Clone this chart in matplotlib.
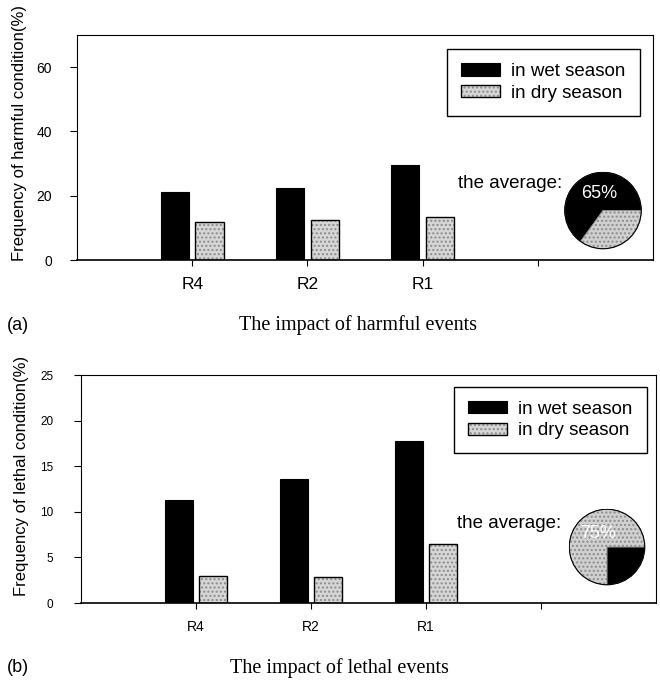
import numpy as np
import matplotlib
matplotlib.use("Agg")
import matplotlib.pyplot as plt

# ── data ─────────────────────────────────────────────────────────────
regions = ["R4", "R2", "R1"]
harm_wet = [21.3, 22.5, 29.6]
harm_dry = [11.9, 12.4, 13.4]
lethal_wet = [11.3, 13.6, 17.8]
lethal_dry = [3.0, 2.9, 6.5]

harm_pie = [65, 35]      # wet, dry
lethal_pie = [25, 75]    # wet, dry
pie_labels = ["65%", "75%"]
pie_label_idx = [0, 1]   # which wedge carries the text

series_names = ["in wet season", "in dry season"]

W, H = 660, 687
plt.rcParams["font.family"] = ["Liberation Sans", "DejaVu Sans"]

fig = plt.figure(figsize=(W / 100, H / 100), dpi=100)


def px(x0, y0, x1, y1):
    """pixel box (left, top, right, bottom) -> figure fraction rect"""
    return [x0 / W, 1 - y1 / H, (x1 - x0) / W, (y1 - y0) / H]


def bar_panel(rect, wet, dry, ymax, yticks, ytick_fs, xtick_fs, xpad, ypad,
              leg_anchor):
    ax = fig.add_axes(rect)
    x = np.arange(1, len(wet) + 1)
    bw = 0.245
    wet_b = ax.bar(x - 0.15, wet, bw, color="black", edgecolor="black", lw=0.8)
    dry_f = ax.bar(x + 0.15, dry, bw, color="#d6d6d6", edgecolor="#8c8c8c",
                   hatch="....", lw=0)
    dry_e = ax.bar(x + 0.15, dry, bw, fill=False, edgecolor="black", lw=1.0)
    ax.set_xlim(0, 5)
    ax.set_ylim(0, ymax)
    ax.set_xticks([1, 2, 3, 4])
    ax.set_xticklabels(regions + [""], fontsize=xtick_fs)
    ax.set_yticks(yticks)
    ax.tick_params(axis="x", direction="out", length=4, width=0.8, pad=xpad)
    ax.tick_params(axis="y", direction="out", length=5, width=0.8, pad=ypad,
                   labelsize=ytick_fs)
    for s in ax.spines.values():
        s.set_linewidth(0.8)
    ax.spines["bottom"].set_linewidth(1.2)
    leg = ax.legend([wet_b, (dry_f, dry_e)], series_names, loc="upper right",
                    bbox_to_anchor=leg_anchor, borderaxespad=0, fontsize=13.5,
                    fancybox=False, edgecolor="black", framealpha=1,
                    handlelength=2.1, handleheight=0.65, handletextpad=0.6,
                    borderpad=0.75, labelspacing=0.25)
    leg.get_frame().set_linewidth(1.0)
    return ax


def pie_inset(cx, cy, r, vals, start, label, idx):
    pa = fig.add_axes(px(cx - r, cy - r, cx + r, cy + r))
    wedges, _ = pa.pie(vals, colors=["black", "#d0d0d0"], startangle=start,
                       counterclock=True,
                       wedgeprops=dict(edgecolor="#555555", linewidth=0.6))
    wedges[1].set_hatch("....")
    wedges[1].set_edgecolor("#8c8c8c")
    pa.add_patch(plt.Circle((0, 0), 1, fill=False, edgecolor="black", lw=0.8))
    w = wedges[idx]
    mid = np.deg2rad((w.theta1 + w.theta2) / 2)
    pa.text(0.55 * np.cos(mid) + 0.15, 0.5 * np.sin(mid), label, color="white",
            fontsize=13, ha="center", va="center")
    pa.set_xlim(-1.02, 1.02)
    pa.set_ylim(-1.02, 1.02)
    pa.set_aspect("equal")
    pa.axis("off")


# ── (a) harmful ──────────────────────────────────────────────────────
bar_panel(px(77, 35, 653, 260), harm_wet, harm_dry, 70, [0, 20, 40, 60],
          10, 12.5, 8, 13, (0.977, 0.938))
fig.text(20 / W, 1 - 133 / H, "Frequency of harmful condition(%)",
         rotation=90, ha="center", va="center", fontsize=12)
fig.text(510 / W, 1 - 183 / H, "the average:", ha="center", va="center",
         fontsize=13.5)
pie_inset(603, 210.5, 39, harm_pie, 0, pie_labels[0], pie_label_idx[0])
fig.text(18 / W, 1 - 325 / H, "(a)", ha="center", va="center", fontsize=13)
fig.text(358 / W, 1 - 325 / H, "The impact of harmful events", ha="center",
         va="center", fontsize=14.5, family=["Liberation Serif", "DejaVu Serif"])

# ── (b) lethal ───────────────────────────────────────────────────────
bar_panel(px(81, 375, 656, 603), lethal_wet, lethal_dry, 25,
          [0, 5, 10, 15, 20, 25], 8.5, 10, 8, 15, (0.984, 0.949))
fig.text(22 / W, 1 - 476 / H, "Frequency of lethal condition(%)",
         rotation=90, ha="center", va="center", fontsize=12)
fig.text(509 / W, 1 - 524 / H, "the average:", ha="center", va="center",
         fontsize=13.5)
pie_inset(607, 547, 38.5, lethal_pie, 270, pie_labels[1], pie_label_idx[1])
fig.text(18 / W, 1 - 668 / H, "(b)", ha="center", va="center", fontsize=13)
fig.text(339 / W, 1 - 668 / H, "The impact of lethal events", ha="center",
         va="center", fontsize=14.5, family=["Liberation Serif", "DejaVu Serif"])

fig.savefig("out.png", dpi=100)
